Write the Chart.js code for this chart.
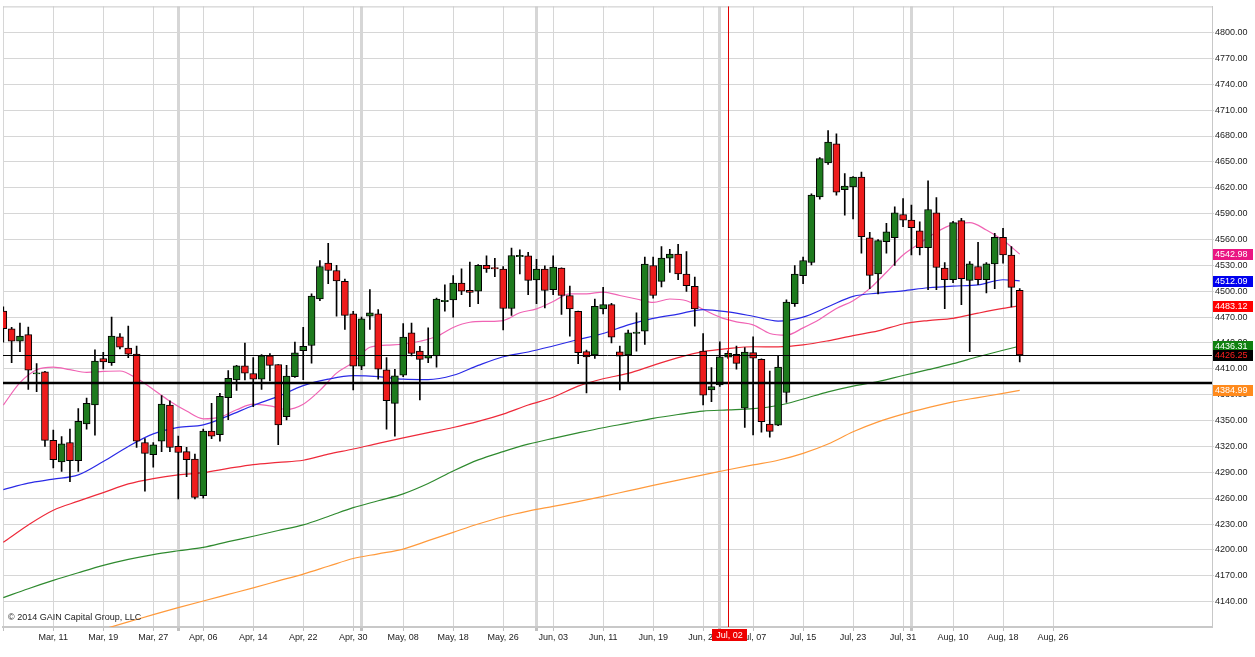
<!DOCTYPE html>
<html>
<head>
<meta charset="utf-8">
<title>Daily candles</title>
<script src="https://cdn.jsdelivr.net/npm/chart.js@4.4.1/dist/chart.umd.min.js"></script>
<style>
  html, body { margin: 0; padding: 0; background: #fff; }
  #wrap { width: 1255px; height: 657px; }
</style>
</head>
<body>
<div id="wrap"><canvas id="chart" width="1255" height="657"></canvas></div>
<script>
// candle i = trading day i, i=0 is Mar 03
const opens = [4477,4456.5,4442,4449.6,4404,4406.5,4327,4302,4324.6,4303.5,
  4346,4368,4422,4417,4447,4434,4427,4324.6,4310.4,4326,
  4368,4320,4314,4305.4,4263,4337.7,4333.5,4376.5,4397,4413.5,
  4404.6,4398,4425,4415,4354.6,4400.8,4431,4437,4491,4532.5,
  4524,4511.4,4473.7,4413,4471,4473.7,4408.7,4370,4402.5,4451.8,
  4430.6,4422.5,4425,4488,4490,4509.5,4501,4500,4530,4527.5,
  4525.6,4480,4540,4541,4513,4525.6,4501.8,4526.8,4494.8,4476.8,
  4430,4426,4479.5,4484.5,4429.8,4426,4451,4453.7,4529.8,4511.4,
  4538.3,4543,4519.8,4505.6,4430.6,4385.6,4391.4,4423.6,4426.8,4364.5,
  4428.7,4421,4346,4344.8,4382.5,4485.6,4518,4533.3,4609.5,4648.7,
  4671,4617.9,4621,4632.5,4562,4520,4557.5,4562,4589,4582.5,
  4570,4550.6,4591,4526.8,4513.3,4581.8,4512.5,4528.7,4513.3,4531.8,
  4562.5,4542,4501];
const highs = [4482,4458,4463,4458.5,4416,4407,4339,4331.5,4340,4364,
  4376,4432,4429,4470,4451,4459.6,4436.5,4329,4324.6,4379,
  4373,4332,4319,4311,4340,4370,4381.5,4408,4414,4440,
  4423,4426.5,4427.7,4415,4414,4441,4458,4497,4535.6,4555.6,
  4530,4514,4476.8,4470,4502,4478.7,4423,4409.5,4462.5,4463,
  4436,4457.5,4492,4507.5,4518,4526,4533.7,4530.8,4541,4538,
  4528.7,4550,4548,4545,4537,4529.5,4541,4527,4506,4477,
  4431.8,4491,4504.5,4486,4436.4,4454.8,4474.8,4539.5,4539.5,4551.8,
  4548.7,4554.5,4546,4516.4,4451,4411.4,4441.4,4431,4436.4,4434.5,
  4447,4421.7,4407.5,4424.8,4490,4529.8,4539.5,4613,4655,4686.4,
  4682.5,4636.4,4633,4638.3,4568.3,4560,4578.7,4598,4607.5,4599.8,
  4580.6,4627.9,4608.7,4533.3,4581,4584.5,4534.5,4556.8,4533.3,4567,
  4573,4551.8,4503];
const lows = [4441,4417,4430,4386,4383.5,4320,4295,4291,4279,4291,
  4340,4333,4410,4414,4433,4423,4319,4268,4296,4314,
  4314,4259,4285,4259,4260,4329,4326,4351,4385,4397,
  4366,4386,4396,4322,4350.8,4400,4397.5,4416.5,4489,4508.7,
  4471,4455.6,4385.6,4409,4455.6,4398,4340,4331.8,4401,4425,
  4374,4417,4412,4476.8,4470,4496,4482,4485.6,4521.8,4517,
  4455,4472,4520,4496,4485.6,4480.6,4496,4473,4448,4416,
  4382,4422,4473.7,4440,4385.6,4394,4430.6,4438.3,4492,4505,
  4521.8,4513.3,4499.8,4459.5,4368,4371.8,4389.5,4422,4409.5,4342,
  4333.3,4336.4,4330.6,4344,4371,4482.5,4508.7,4530.6,4606.8,4647,
  4611.4,4588.3,4583.7,4544,4503,4497,4544,4529.8,4574.8,4542,
  4542,4501.8,4501.8,4479.8,4510,4484.5,4429.8,4507.5,4498,4503,
  4532.5,4481.8,4418];
const closes = [4456.5,4442,4448,4408.5,4405.5,4327,4304.6,4323,4303.5,4349,
  4370,4419,4418,4448,4435,4427,4326,4312,4322,4369,
  4319,4313,4304.6,4261,4337.7,4332,4378,4399,4413.5,4405,
  4398,4425,4414,4345,4401.5,4428.5,4436,4494.5,4528.7,4524,
  4512,4472,4413,4468,4475,4409.5,4373,4401.8,4446.8,4428,
  4421,4425.6,4491,4489.5,4509.5,4500,4498.7,4530,4526,4526,
  4480,4541.4,4541.5,4512.5,4525.6,4501,4528,4495,4479.5,4428.7,
  4423.7,4482.5,4484.5,4446.8,4424.8,4451.8,4452.5,4531.4,4495,4538.3,
  4543,4520.2,4506.4,4479.5,4379.5,4389.5,4424,4428,4416.4,4429.5,
  4422.5,4348.7,4337.5,4412,4487.5,4520,4535.6,4611.4,4653.7,4673,
  4615,4622,4632.5,4563.3,4518.3,4558.7,4569,4591,4582.5,4573.7,
  4550.6,4594.8,4527.5,4513.3,4579.5,4514.5,4531.8,4513.3,4531.8,4562.5,
  4542,4504.5,4426.25];

// moving averages, read every 3rd candle (last point on the final candle)
const maIdx = [0,3,6,9,12,15,18,21,24,27,30,33,36,39,42,45,48,51,54,57,60,
  63,66,69,72,75,78,81,84,87,90,93,96,99,102,105,108,111,114,117,120,122];
const maBlue = [4270,4277.5,4282,4287,4302.5,4320,4334.5,4342,4345,4355.5,4367.5,
  4378,4390.5,4398,4402,4401,4398,4397.5,4402.5,4414,4424,4429.5,4436.5,4444,
  4451,4461,4468.6,4473.5,4478.7,4476,4471,4465.4,4470,4482,4494,4497.8,4500.5,
  4504,4506,4507.3,4513.3,4512.1];
const maRed = [4208.8,4229,4246,4256.5,4266.5,4276.5,4282.7,4287,4289.6,4294.5,4299,
  4301.5,4304,4311,4317,4323.6,4330,4336,4342,4349,4357.5,4368,4377,4390,
  4398.5,4404.7,4414,4423,4430,4433.5,4435.6,4435.5,4437.7,4442.5,4448.5,4454,
  4462,4466,4468.6,4474.5,4480,4483.1];
const maGreen = [4144.6,4155,4164.6,4173.5,4182,4189,4194.6,4199,4203,4209.6,4215.8,
  4222.5,4229,4238.8,4249,4257,4265,4277,4291.5,4304.4,4314,4322.6,4329.4,4335.7,
  4341.7,4347,4352.5,4357,4361,4362.3,4363.8,4367.5,4375,4383.3,4390,4395.3,
  4402.3,4409,4416,4424,4431.5,4436.3];
const maOrange = [null,null,null,null,4108,4116.5,4125,4133,4140.8,4148.4,4156,
  4164,4172,4181,4190,4195.5,4201,4210.7,4220.4,4230,4238.5,4245,4250.5,4256,
  4262,4268.4,4274.8,4281,4287,4293,4298.6,4304,4312,4322.8,4337,4348.5,4357.5,
  4365,4371.7,4376.7,4381.5,4385];
// fast average, read every 2nd candle
const maPink = [4368,4394,4409,4412,4409,4406,4407,4407.5,4399,4386,4372.5,4361,
  4352,4354,4362.5,4369,4367,4363,4369,4385,4405,4417.5,4435,4437.5,4438.5,4442,
  4447.5,4458,4464,4465,4466,4475,4479.5,4488,4497,4497,4499,4495,4491,4487,4491,
  4489,4479,4470,4464.5,4461,4451,4449,4457.5,4467.5,4480,4489,4503,4522,4542,
  4555.5,4568.5,4577.5,4579.5,4571,4559,4543];

// axis labels
const tickIdx = [6,12,18,24,30,36,42,48,54,60,66,72,78,84,90,96,102,108,114,120,126];
const tickLabels = ['Mar, 11','Mar, 19','Mar, 27','Apr, 06','Apr, 14','Apr, 22','Apr, 30',
  'May, 08','May, 18','May, 26','Jun, 03','Jun, 11','Jun, 19','Jun, 29','Jul, 07',
  'Jul, 15','Jul, 23','Jul, 31','Aug, 10','Aug, 18','Aug, 26'];
const monthStartIdx = [21, 43, 64, 86, 109];
const yTicks = [4140,4170,4200,4230,4260,4290,4320,4350,4380,4410,4440,4470,4500,
  4530,4560,4590,4620,4650,4680,4710,4740,4770,4800];

const lastClose = 4426.25;
const supportLevel = 4393.5;
const cursorIdx = 87;
const cursorLabel = 'Jul, 02';
const tagValues = [4542.98, 4512.09, 4483.12, 4436.31, 4426.25, 4384.99];

const FONT = 'Arial, "Liberation Sans", sans-serif';
const UP = '#1e7b1e', DOWN = '#ee1c1c';
const tagBg = ['#ea1582', '#0000ee', '#ff0000', '#108010', '#000000', '#ff8a1c'];
const tagFg = ['#fff', '#fff', '#fff', '#fff', '#ff2020', '#fff'];

const maLine = (vals, xs, color) => ({
  type: 'line',
  data: vals.map((v, k) => ({ x: xs[k], y: v })),
  borderColor: color,
  borderWidth: 1.2,
  pointRadius: 0,
  cubicInterpolationMode: 'monotone',
  order: 3
});

const pinkIdx = maPink.map((v, k) => k * 2);

const overlay = {
  id: 'overlay',
  afterDatasetsDraw(chart) {
    const { ctx, chartArea: a, scales: { x, y } } = chart;
    ctx.save();
    ctx.strokeStyle = '#c8c8c8';
    ctx.lineWidth = 1;
    ctx.beginPath(); ctx.moveTo(a.left, a.top + 0.5); ctx.lineTo(a.right, a.top + 0.5); ctx.stroke();

    ctx.strokeStyle = '#000';
    let py = Math.round(y.getPixelForValue(lastClose)) + 0.5;
    ctx.beginPath(); ctx.moveTo(a.left, py); ctx.lineTo(a.right, py); ctx.stroke();
    ctx.lineWidth = 2.5;
    py = y.getPixelForValue(supportLevel);
    ctx.beginPath(); ctx.moveTo(a.left, py); ctx.lineTo(a.right, py); ctx.stroke();

    ctx.strokeStyle = '#e00000';
    ctx.lineWidth = 1;
    const cx = Math.round(x.getPixelForValue(cursorIdx)) + 0.5;
    ctx.beginPath(); ctx.moveTo(cx, a.top); ctx.lineTo(cx, a.bottom); ctx.stroke();
    ctx.restore();
  },
  afterDraw(chart) {
    const { ctx, chartArea: a, scales: { x, y } } = chart;
    ctx.save();
    ctx.font = '9px ' + FONT;
    ctx.textBaseline = 'middle';

    // value tags on the price axis
    tagValues.forEach((v, k) => {
      const py = Math.round(y.getPixelForValue(v));
      ctx.fillStyle = tagBg[k];
      ctx.fillRect(a.right + 1, py - 5, 40, 11);
      ctx.fillStyle = tagFg[k];
      ctx.textAlign = 'left';
      ctx.fillText(v.toFixed(2), a.right + 3, py + 0.5);
    });

    // cursor date box
    const cx = x.getPixelForValue(cursorIdx);
    ctx.fillStyle = '#ee0000';
    ctx.fillRect(Math.round(cx) - 16, a.bottom + 2, 35, 12);
    ctx.fillStyle = '#fff';
    ctx.textAlign = 'center';
    ctx.fillText(cursorLabel, cx + 1.5, a.bottom + 8.5);

    ctx.fillStyle = '#222';
    ctx.textAlign = 'left';
    ctx.fillText('\u00a9 2014 GAIN Capital Group, LLC', a.left + 5, a.bottom - 9);
    ctx.restore();
  }
};

new Chart(document.getElementById('chart'), {
  type: 'bar',
  data: {
    datasets: [
      {
        type: 'bar',
        data: opens.map((o, k) => ({ x: k, y: [o, closes[k]] })),
        backgroundColor: opens.map((o, k) => (closes[k] >= o ? UP : DOWN)),
        borderColor: '#000',
        borderWidth: 1,
        borderSkipped: false,
        barThickness: 7,
        grouped: false,
        order: 1
      },
      {
        type: 'bar',
        data: lows.map((l, k) => ({ x: k, y: [l, highs[k]] })),
        backgroundColor: '#000',
        barThickness: 1,
        grouped: false,
        order: 2
      },
      maLine(maOrange, maIdx, '#ff9a3c'),
      maLine(maGreen, maIdx, '#2f8a2f'),
      maLine(maRed, maIdx, '#ee2a3a'),
      maLine(maBlue, maIdx, '#2a2ae6'),
      maLine(maPink, pinkIdx, '#f064b4')
    ]
  },
  options: {
    responsive: false,
    devicePixelRatio: 1,
    animation: false,
    layout: { padding: { left: 3, top: 3, right: 0, bottom: 0 } },
    plugins: { legend: { display: false }, tooltip: { enabled: false } },
    scales: {
      x: {
        type: 'linear',
        position: 'bottom',
        offset: false,
        min: -0.036,
        max: 145.08,
        afterBuildTicks: (s) => {
          s.ticks = [0, ...tickIdx, ...monthStartIdx].sort((p, q) => p - q).map(v => ({ value: v }));
        },
        afterFit: (s) => { s.height = 30; },
        ticks: {
          autoSkip: false,
          maxRotation: 0,
          padding: 1,
          color: '#222',
          font: { family: FONT, size: 9 },
          callback: (v) => {
            const k = tickIdx.indexOf(v);
            return k >= 0 ? tickLabels[k] : '';
          }
        },
        grid: {
          offset: false,
          color: '#d6d6d6',
          tickColor: '#c0c0c0',
          tickLength: 4,
          lineWidth: (c) => (c.tick && monthStartIdx.includes(c.tick.value) ? 3 : 1)
        },
        border: { color: '#c8c8c8', width: 2 }
      },
      y: {
        type: 'linear',
        position: 'right',
        min: 4110.6,
        max: 4830.3,
        afterBuildTicks: (s) => { s.ticks = yTicks.map(v => ({ value: v })); },
        afterFit: (s) => { s.width = 43; },
        ticks: {
          padding: 1,
          color: '#222',
          font: { family: FONT, size: 9 },
          callback: (v) => Number(v).toFixed(2)
        },
        grid: { color: '#d6d6d6', tickLength: 2 },
        border: { color: '#c8c8c8', width: 1 }
      }
    }
  },
  plugins: [overlay]
});
</script>
</body>
</html>
